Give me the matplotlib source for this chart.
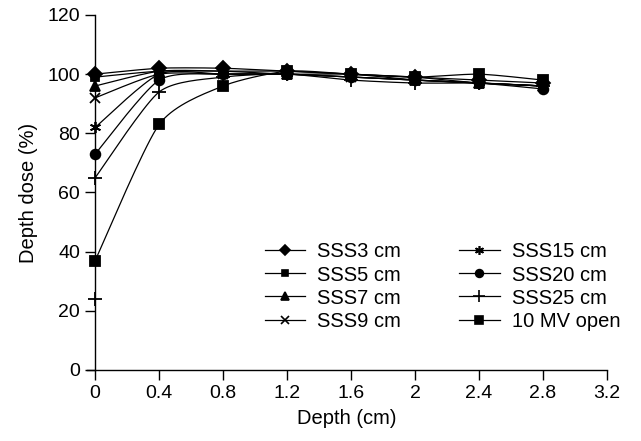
import numpy as np
import matplotlib
matplotlib.use("Agg")
import matplotlib.pyplot as plt
from matplotlib.lines import Line2D

plt.rcParams['font.family'] = ['Liberation Sans', 'DejaVu Sans']

depth = [0, 0.4, 0.8, 1.2, 1.6, 2.0, 2.4, 2.8]
sss3 = [100, 102, 102, 101, 100, 99, 98, 97]
sss5 = [99, 101, 101, 101, 100, 99, 97, 96]
sss7 = [96, 101, 101, 100, 100, 98, 97, 96]
sss9 = [92, 100, 100, 100, 99, 98, 97, 96]
sss15 = [82, 100, 100, 100, 99, 98, 97, 96]
sss20 = [73, 98, 100, 100, 99, 98, 97, 95]
sss25 = [65, 94, 99, 100, 98, 97, 97, 96]
open10 = [37, 83, 96, 101, 100, 99, 100, 98]

# extra surface reading drawn on its own
extra_x = [0]
extra_y = [24]

labels = ['SSS3 cm', 'SSS5 cm', 'SSS7 cm', 'SSS9 cm',
          'SSS15 cm', 'SSS20 cm', 'SSS25 cm', '10 MV open']
series = [sss3, sss5, sss7, sss9, sss15, sss20, sss25, open10]
markers = ['D', 's', '^', 'x', (6, 2, 0), 'o', '+', 's']
msizes = [7, 6, 7, 7, 8, 7, 10, 7]


def smooth(x, y, n=20, tension=0.35):
    # cardinal spline through the points, like a smoothed line chart
    x = np.asarray(x, float)
    y = np.asarray(y, float)
    px = np.concatenate([[x[0]], x, [x[-1]]])
    py = np.concatenate([[y[0]], y, [y[-1]]])
    xs, ys = [], []
    t = np.linspace(0, 1, n)
    h00 = 2 * t ** 3 - 3 * t ** 2 + 1
    h10 = t ** 3 - 2 * t ** 2 + t
    h01 = -2 * t ** 3 + 3 * t ** 2
    h11 = t ** 3 - t ** 2
    for i in range(1, len(px) - 2):
        for p, out in ((px, xs), (py, ys)):
            m1 = tension * (p[i + 1] - p[i - 1])
            m2 = tension * (p[i + 2] - p[i])
            out.extend(h00 * p[i] + h10 * m1 + h01 * p[i + 1] + h11 * m2)
    return xs, ys


fig = plt.figure(figsize=(6.41, 4.41), dpi=100)
ax = fig.add_axes([0.136, 0.161, 0.811, 0.805])

handles = []
for vals, lab, m, ms in zip(series, labels, markers, msizes):
    sx, sy = smooth(depth, vals)
    ax.plot(sx, sy, color='black', lw=0.9)
    ax.plot(depth, vals, linestyle='none', marker=m, markersize=ms,
            color='black', mew=1.3)
    handles.append(Line2D([], [], color='black', lw=0.9, marker=m,
                          markersize=ms * 0.8, mew=1.2, label=lab))
ax.plot(extra_x, extra_y, linestyle='none', marker='+', markersize=10,
        color='black', mew=1.3, clip_on=False)

ax.set_xlim(-0.05, 3.2)
ax.set_ylim(0, 120)
ax.set_xticks([0, 0.4, 0.8, 1.2, 1.6, 2, 2.4, 2.8, 3.2])
ax.set_xticklabels(['0', '0.4', '0.8', '1.2', '1.6', '2', '2.4', '2.8', '3.2'])
ax.set_yticks(range(0, 121, 20))
ax.spines['left'].set_position(('data', 0))
ax.spines['top'].set_visible(False)
ax.spines['right'].set_visible(False)
for s in ax.spines.values():
    s.set_linewidth(1.0)
ax.tick_params(direction='out', length=7, width=1, labelsize=14, pad=4)
ax.set_xlabel('Depth (cm)', fontsize=14.5, labelpad=5)
ax.set_ylabel('Depth dose (%)', fontsize=14.5)
ax.yaxis.set_label_coords(-0.095, 0.5)

ax.legend(handles, labels, ncol=2, frameon=False, fontsize=14.5,
          loc='lower right', bbox_to_anchor=(1.06, 0.06), handlelength=2.0,
          labelspacing=0.2, columnspacing=2.9, handletextpad=0.6)

fig.savefig('out.png', dpi=100)
